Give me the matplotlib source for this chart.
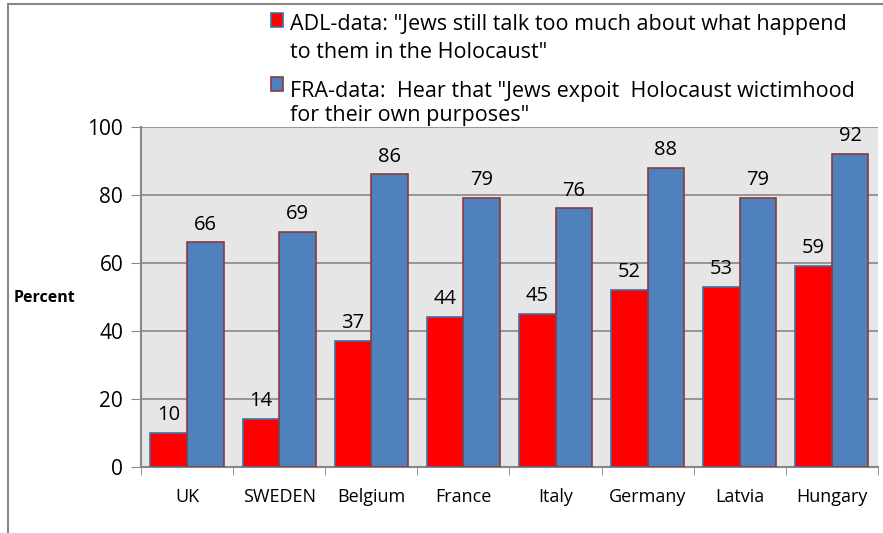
import matplotlib.pyplot as plt
import numpy as np
from matplotlib.patches import Rectangle

countries = ["UK", "SWEDEN", "Belgium", "France", "Italy", "Germany", "Latvia", "Hungary"]
adl = [10, 14, 37, 44, 45, 52, 53, 59]
fra = [66, 69, 86, 79, 76, 88, 79, 92]
labels = ['ADL-data: "Jews still talk too much about what happend\nto them in the Holocaust"',
          'FRA-data:  Hear that "Jews expoit  Holocaust wictimhood\nfor their own purposes"']
red = "#ff0000"
blue = "#4f81bd"

plt.rcParams['font.family'] = ['Open Sans', 'DejaVu Sans']

W, H = 883, 533
fig = plt.figure(figsize=(W / 100, H / 100), dpi=100)
ax = fig.add_axes([0.160, 0.124, 0.834, 0.638])
ax.set_facecolor("#e6e6e6")

x = np.arange(len(countries))
w = 0.4
b1 = ax.bar(x - w/2, adl, w, color=red, edgecolor="#3f6fa8", linewidth=1.2, zorder=3)
b2 = ax.bar(x + w/2, fra, w, color=blue, edgecolor="#8c3a3a", linewidth=1.2, zorder=3)

for bars, vals in [(b1, adl), (b2, fra)]:
    for r, v in zip(bars, vals):
        ax.text(r.get_x() + r.get_width()/2, v + 2.3, str(v), ha="center", va="bottom", fontsize=14.5, zorder=4)

ax.set_xlim(-0.5, len(countries) - 0.5)
ax.set_ylim(0, 100)
ax.set_yticks(range(0, 101, 20))
ax.tick_params(axis="y", labelsize=15, length=7, color="#888888", direction="out", pad=6)
ax.set_xticks(np.arange(-0.5, len(countries), 1), minor=True)
ax.set_xticks(x)
ax.set_xticklabels(countries, fontsize=13)
ax.tick_params(axis="x", which="major", length=0, pad=15)
ax.tick_params(axis="x", which="minor", length=6, color="#888888", direction="out")
ax.yaxis.grid(True, color="#888888", linewidth=1.2, zorder=0)
for s in ["top", "right"]:
    ax.spines[s].set_visible(False)
for s in ["left", "bottom"]:
    ax.spines[s].set_color("#888888")
    ax.spines[s].set_linewidth(1.5)

fig.text(0.015, 0.44, "Percent", fontsize=11.5, fontweight="bold", va="center")

# legend drawn by hand so the square sits on the first line of each entry
entries = [(labels[0], red, "#3f6fa8", 13, [30, 58]),
           (labels[1], blue, "#8c3a3a", 77, [97, 121])]
for text, fc, ec, top, baselines in entries:
    fig.patches.append(Rectangle((271 / W, 1 - (top + 14) / H), 12 / W, 14 / H,
                                 transform=fig.transFigure, facecolor=fc, edgecolor=ec, linewidth=1.2))
    for line, yb in zip(text.split("\n"), baselines):
        fig.text(290 / W, 1 - yb / H, line, fontsize=15.5, va="baseline", ha="left")

fig.patches.append(Rectangle((0.009, -0.1), 1.5, 1.092, transform=fig.transFigure,
                             fill=False, edgecolor="#888888", linewidth=1.5))

fig.savefig("out.png", dpi=100)
